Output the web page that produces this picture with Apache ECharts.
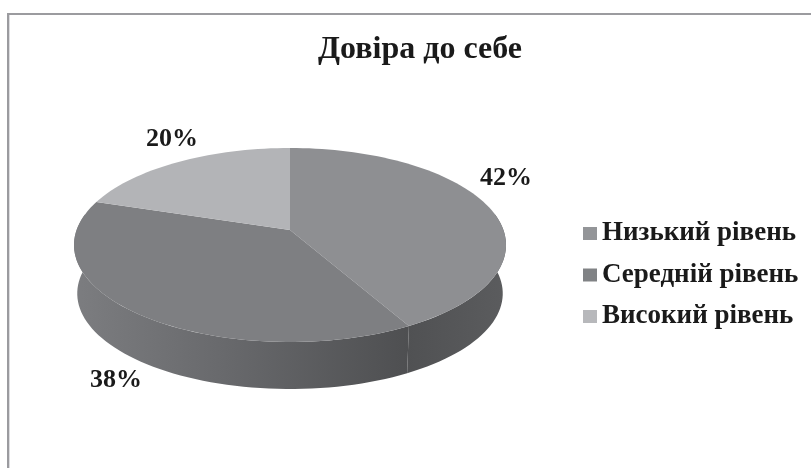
<!DOCTYPE html>
<html>
<head>
<meta charset="utf-8">
<style>
  html, body { margin: 0; padding: 0; background: #fff; }
  #chart { width: 811px; height: 468px; }
</style>
<script src="https://cdn.jsdelivr.net/npm/echarts@6/dist/echarts.min.js"></script>
</head>
<body>
<div id="chart"></div>
<script>
const titleText = 'Довіра до себе';
const categories = ['Низький рівень', 'Середній рівень', 'Високий рівень'];
const values = [42, 38, 20];

const topColors = ['#8e8f92', '#7e7f82', '#b3b4b7'];
const legendColors = ['#939598', '#808285', '#b7b8bb'];

// Fake 3D pie: each rim point goes through a small perspective projection
const CX = 290, CY = 230;
const RX = 213.4, RY = 94.7, TILT = 0.1546;
const DEPTH = 48.7, BOTTOM_SCALE = 0.985;
const SIDE_FROM = 80, SIDE_TO = 280; // only the front wall is ever visible
const LABEL_SHIFT = [[17, -29], [-19.5, 67], [-6.5, -23]];

const total = values.reduce((a, b) => a + b, 0);

function project(deg, scale, dy) {
  const t = deg * Math.PI / 180;
  const u = Math.sin(t), v = -Math.cos(t);
  const w = 1 - TILT * v;
  return [CX + scale * RX * u / w, CY + dy + scale * RY * v / w];
}

function arc(from, to, scale, dy) {
  const pts = [];
  const n = Math.max(1, Math.ceil((to - from) / 2));
  for (let i = 0; i <= n; i++) {
    pts.push(project(from + (to - from) * i / n, scale, dy));
  }
  return pts;
}

function sideFill(index) {
  const stops = index === 0
    ? [[0, '#505153'], [1, '#5b5c5e']]
    : [[0, '#7c7d80'], [0.45, '#68696c'], [1, '#4e4f51']];
  return new echarts.graphic.LinearGradient(0, 0, 1, 0,
    stops.map(s => ({ offset: s[0], color: s[1] })));
}

function renderSlice(index) {
  return function (params, api) {
    const before = values.slice(0, index).reduce((a, b) => a + b, 0);
    const start = before / total * 360;
    const end = start + api.value(0) / total * 360;
    const children = [];

    const from = Math.max(start, SIDE_FROM), to = Math.min(end, SIDE_TO);
    if (to > from) {
      const upper = arc(from, to, 1, 0);
      const lower = arc(from, to, BOTTOM_SCALE, DEPTH).reverse();
      children.push({
        type: 'polygon',
        shape: { points: upper.concat(lower) },
        style: { fill: sideFill(index) }
      });
    }

    children.push({
      type: 'polygon',
      shape: { points: [[CX, CY]].concat(arc(start, end, 1, 0)) },
      style: { fill: topColors[index] }
    });

    const mid = project((start + end) / 2, 1, 0);
    children.push({
      type: 'text',
      x: mid[0] + LABEL_SHIFT[index][0],
      y: mid[1] + LABEL_SHIFT[index][1],
      style: {
        text: api.value(0) + '%',
        fill: '#1a1a1a',
        font: 'bold 26px "Liberation Serif"',
        align: 'center',
        verticalAlign: 'middle'
      }
    });

    return { type: 'group', children: children };
  };
}

const chart = echarts.init(document.getElementById('chart'));

chart.setOption({
  animation: false,
  backgroundColor: '#fff',
  title: {
    text: titleText,
    left: 415,
    top: 29,
    textAlign: 'center',
    textStyle: {
      fontFamily: 'Liberation Serif',
      fontWeight: 'bold',
      fontSize: 32,
      color: '#1a1a1a'
    }
  },
  legend: {
    orient: 'vertical',
    left: 578,
    top: 215,
    itemWidth: 14,
    itemHeight: 13,
    itemGap: 14.5,
    icon: 'rect',
    selectedMode: false,
    textStyle: {
      fontFamily: 'Liberation Serif',
      fontWeight: 'bold',
      fontSize: 27,
      color: '#1a1a1a',
      padding: [2, 0, 0, 0]
    },
    data: categories
  },
  graphic: [
    { type: 'rect', shape: { x: 7, y: 13, width: 804, height: 2 }, style: { fill: '#9b9b9f' }, silent: true },
    { type: 'rect', shape: { x: 7, y: 13, width: 2, height: 455 }, style: { fill: '#9b9b9f' }, silent: true },
    { type: 'rect', shape: { x: 9, y: 15, width: 1, height: 453 }, style: { fill: '#dddde0' }, silent: true }
  ],
  series: categories.map((name, i) => ({
    type: 'custom',
    name: name,
    coordinateSystem: 'none',
    itemStyle: { color: legendColors[i] },
    data: [[values[i]]],
    renderItem: renderSlice(i)
  }))
});
</script>
</body>
</html>
